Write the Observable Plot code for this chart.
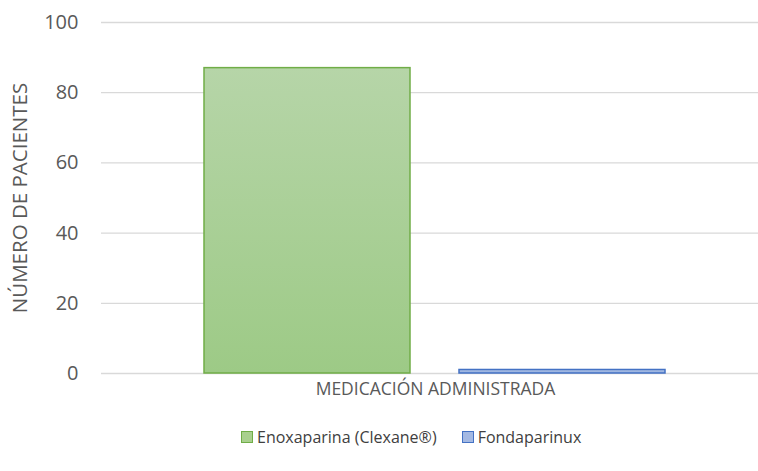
<!DOCTYPE html>
<html>
<head>
<meta charset="utf-8">
<script src="https://cdn.jsdelivr.net/npm/d3@7"></script>
<script src="https://cdn.jsdelivr.net/npm/@observablehq/plot@0.6"></script>
<style>
  body { margin: 0; background: #fff; font-family: "Open Sans", "Noto Sans", sans-serif; }
  #wrap { width: 758px; }
  #legend { display: flex; justify-content: flex-start; gap: 25px; margin-top: 12px; padding-left: 241px; font-size: 16px; color: #404040; line-height: 20px; }
  .item { display: flex; align-items: center; gap: 4px; }
  .sw { width: 10px; height: 10px; border: 1px solid; }
</style>
</head>
<body>
<div id="wrap"></div>
<script>
const medications = ["Enoxaparina (Clexane®)", "Fondaparinux"];
const patients = [87, 1];
const yTicks = [0, 20, 40, 60, 80, 100];
const groupLabel = "MEDICACIÓN ADMINISTRADA";
const yTitle = "NÚMERO DE PACIENTES";

const data = medications.map((m, i) => ({med: m, value: patients[i], grad: i === 0 ? "url(#gGreen)" : "url(#gBlue)", stroke: i === 0 ? "#70ad47" : "#4472c4"}));

const chart = Plot.plot({
  width: 758,
  height: 415,
  marginTop: 22,
  marginBottom: 42,
  marginLeft: 101,
  marginRight: -11,
  style: {fontFamily: "'Open Sans', 'Noto Sans', sans-serif", fontSize: "17px", color: "#595959", overflow: "hidden"},
  x: {domain: medications, paddingInner: 0.192, paddingOuter: 0.404, axis: null},
  y: {domain: [0, 100], ticks: yTicks, grid: false, axis: null},
  marks: [
    Plot.gridY(yTicks, {stroke: "#d9d9d9", strokeOpacity: 1, strokeWidth: 1.3}),
    Plot.axisY(yTicks, {tickSize: 0, tickPadding: 23, fontSize: 20, fill: "#595959", label: null}),
    Plot.barY(data, {x: "med", y: "value", fill: "grad", stroke: "stroke", strokeWidth: 1.5, inset: 0}),
    Plot.text([groupLabel], {frameAnchor: "bottom", dy: 21, text: d => d, fontSize: 17.5, fill: "#595959"}),
    Plot.text([yTitle], {frameAnchor: "left", textAnchor: "middle", dx: -81, rotate: -90, text: d => d, fontSize: 20.5, fill: "#595959"})
  ]
});

const ns = "http://www.w3.org/2000/svg";
const defs = document.createElementNS(ns, "defs");
defs.innerHTML = `
<linearGradient id="gGreen" x1="0" y1="0" x2="0" y2="1">
  <stop offset="0" stop-color="#b6d5a8"/><stop offset="1" stop-color="#9dca86"/>
</linearGradient>
<linearGradient id="gBlue" x1="0" y1="0" x2="0" y2="1">
  <stop offset="0" stop-color="#b4c7e7"/><stop offset="1" stop-color="#8faadc"/>
</linearGradient>`;
chart.insertBefore(defs, chart.firstChild);

const wrap = document.getElementById("wrap");
wrap.appendChild(chart);

const legend = document.createElement("div");
legend.id = "legend";
const colors = [["#a9d08e", "#70ad47"], ["#a4b9e3", "#4472c4"]];
medications.forEach((m, i) => {
  const it = document.createElement("div");
  it.className = "item";
  const sw = document.createElement("span");
  sw.className = "sw";
  sw.style.background = colors[i][0];
  sw.style.borderColor = colors[i][1];
  const t = document.createElement("span");
  t.textContent = m;
  it.appendChild(sw); it.appendChild(t);
  legend.appendChild(it);
});
wrap.appendChild(legend);
</script>
</body>
</html>
